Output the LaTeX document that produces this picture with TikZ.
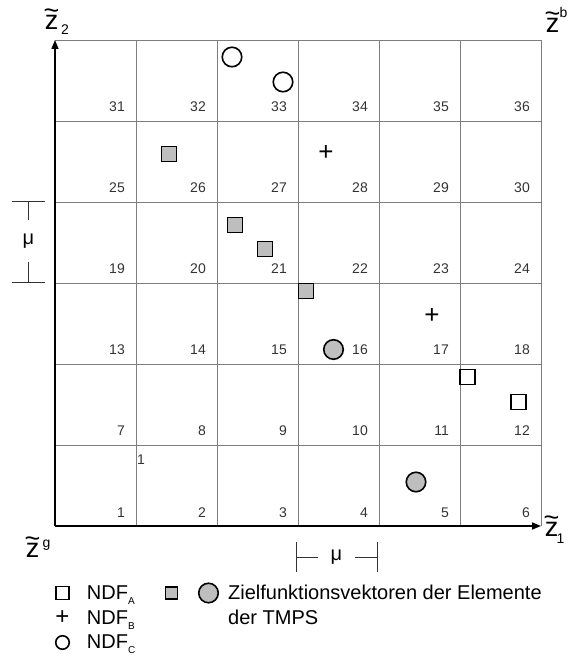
\documentclass[tikz,border=0pt]{standalone}
\usepackage{fontspec}
\setmainfont{Liberation Sans}
\usetikzlibrary{arrows.meta,positioning}
\definecolor{gridgray}{RGB}{125,125,125}
\definecolor{markgray}{RGB}{190,190,190}
\newcommand\ztilde{\ooalign{z\cr\hidewidth\raisebox{10pt}{\textasciitilde}\hidewidth\cr}}
\newcommand\legsub[1]{\raisebox{-5pt}{\fontsize{10}{10}\selectfont #1}}
\begin{document}
\begin{tikzpicture}[x=1pt,y=1pt,
    gridline/.style={draw=gridgray,line width=0.9pt},
    axis/.style={line width=1.5pt,-{Triangle[length=9pt,width=7pt]}},
    tick/.style={line width=1pt,draw=black!80},
    cellno/.style={anchor=base east,inner sep=0pt,text=black!80,font=\fontsize{14}{14}\selectfont},
    ringmark/.style={circle,draw,line width=1.6pt,minimum size=19.5pt,inner sep=0pt},
    ballmark/.style={ringmark,fill=markgray},
    boxmark/.style={rectangle,draw,line width=1.6pt,minimum size=15pt,inner sep=0pt},
    tilemark/.style={boxmark,fill=markgray},
    plusmark/.style={inner sep=0pt,font=\fontsize{26}{26}\selectfont},
    zlabel/.style={inner sep=0pt,anchor=base,font=\fontsize{27}{27}\selectfont},
    zindex/.style={inner sep=0pt,font=\fontsize{14}{14}\selectfont},
    mulabel/.style={inner sep=0pt,font=\fontsize{20}{20}\selectfont},
    legtext/.style={anchor=base west,inner sep=0pt,font=\fontsize{20}{24.5}\selectfont}]
    \def\s{81}
    \useasboundingbox (-55,-130) rectangle (514,526);
    \foreach \i in {1,...,6} {
        \draw[gridline] (\i*\s,0) -- (\i*\s,6*\s);
        \draw[gridline] (0,\i*\s) -- (6*\s,\i*\s);
    }
    \coordinate (O) at (0,0);
    \coordinate (X) at (6*\s,0);
    \coordinate (Y) at (0,6*\s);
    \draw[axis] (O) -- (X);
    \draw[axis] (O) -- (Y);
    \foreach \r in {0,...,5}
        \foreach \c in {1,...,6} {
            \pgfmathtruncatemacro\n{6*\r+\c}
            \node[cellno] (N\n) at (\c*\s-11,\r*\s+9) {\n};
        }
    \node[cellno,anchor=center] (N1x) at (86,66.5) {1};
    \node[ringmark] (C1) at (177,469) {};
    \node[ringmark] (C2) at (228,444) {};
    \node[tilemark] (S1) at (114,372) {};
    \node[tilemark] (S2) at (180,301) {};
    \node[tilemark] (S3) at (210,277) {};
    \node[tilemark] (S4) at (251,235) {};
    \node[ballmark] (G1) at (278.5,176.5) {};
    \node[ballmark] (G2) at (361,44) {};
    \node[plusmark] (P1) at (271,373) {+};
    \node[plusmark] (P2) at (377,210) {+};
    \node[boxmark] (Q1) at (412.5,149) {};
    \node[boxmark] (Q2) at (463.5,124) {};
    \node[zlabel] (Z2) at (-3.5,496.5) {\ztilde};
    \node[zindex] (Z2i) at (10,496) {2};
    \node[zlabel] (Zb) at (497.5,493) {\ztilde};
    \node[zindex] (Zbi) at (508.5,513.5) {b};
    \node[zlabel] (Z1) at (496.5,-10.5) {\ztilde};
    \node[zindex] (Z1i) at (505.5,-12.5) {1};
    \node[zlabel] (Zg) at (-22.5,-31.5) {\ztilde};
    \node[zindex] (Zgi) at (-8.5,-19) {g};
    \node[mulabel,minimum height=41pt] (MuL) at (-26.5,284.8) {μ};
    \coordinate (MuLt) at (-26.5,324);
    \coordinate (MuLb) at (-26.5,243);
    \draw[tick] (MuLt) -- (MuL);
    \draw[tick] (MuL) -- (MuLb);
    \draw[tick] ([xshift=-16pt]MuLt) -- ([xshift=16pt]MuLt);
    \draw[tick] ([xshift=-16pt]MuLb) -- ([xshift=16pt]MuLb);
    \node[mulabel,minimum width=37pt] (MuB) at (281.5,-31) {μ};
    \coordinate (MuBl) at (241.5,-31);
    \coordinate (MuBr) at (322.5,-31);
    \draw[tick] (MuBl) -- (MuB);
    \draw[tick] (MuB) -- (MuBr);
    \draw[tick] ([yshift=15pt]MuBl) -- ([yshift=-15pt]MuBl);
    \draw[tick] ([yshift=15pt]MuBr) -- ([yshift=-15pt]MuBr);
    \node[boxmark,minimum size=13pt] (LA) at (7.5,-67) {};
    \node[plusmark,font=\fontsize{24}{24}\selectfont] (LB) at (7.5,-91.5) {+};
    \node[ringmark,minimum size=13.5pt] (LC) at (7.5,-116.5) {};
    \node[legtext] (TA) at (31.7,-73) {NDF\legsub{A}};
    \node[legtext] (TB) at (31.7,-98) {NDF\legsub{B}};
    \node[legtext] (TC) at (31.7,-122) {NDF\legsub{C}};
    \node[tilemark,minimum size=12pt] (LS) at (116.5,-67) {};
    \node[ballmark] (LG) at (153.5,-67) {};
    \node[legtext] (TD) at (173,-73) {Zielfunktionsvektoren der Elemente};
    \node[legtext] (TE) at (173,-98) {der TMPS};
\end{tikzpicture}
\end{document}
